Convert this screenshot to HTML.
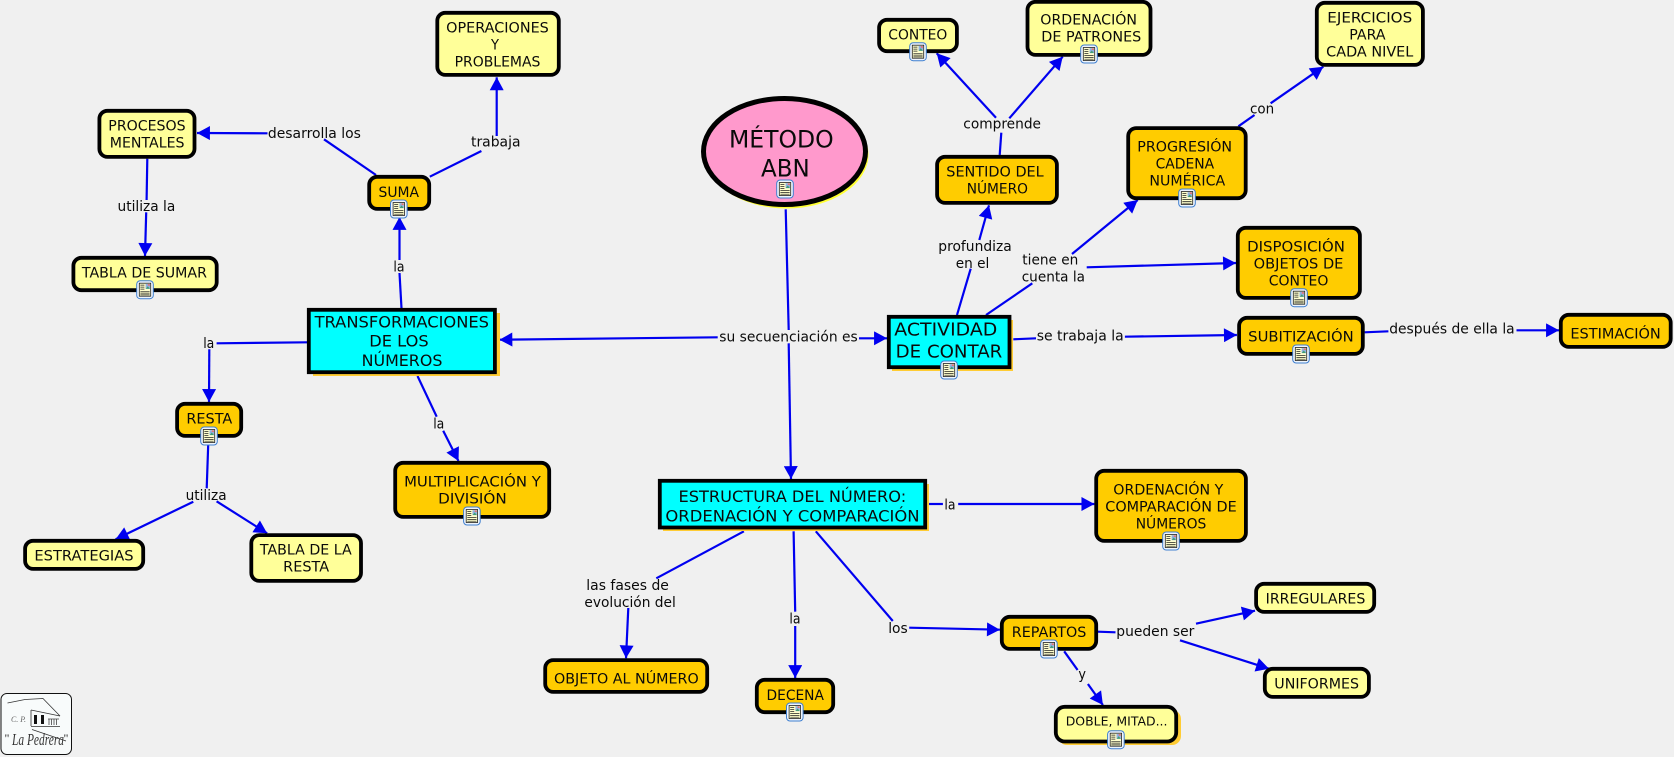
<!DOCTYPE html>
<html lang="es">
<head>
<meta charset="utf-8">
<title>MÉTODO ABN</title>
<style>
html,body{margin:0;padding:0;background:#f0f0f0;width:1674px;height:757px;overflow:hidden}
svg{display:block}
text{font-family:"DejaVu Sans","Liberation Sans",sans-serif;font-size:14px;fill:#0a0a0a}
.c path{fill:none;stroke:#0000f0;stroke-width:2.2}
.c path.a{marker-end:url(#ah)}
.n rect,.n ellipse{stroke:#000;stroke-width:3.8}
.y{fill:#ffff99}.o{fill:#ffcc00}.b{fill:#00ffff}
.s{fill:#ffcc33;stroke:none!important}
</style>
</head>
<body>
<svg width="1674" height="757" viewBox="0 0 1674 757" xmlns="http://www.w3.org/2000/svg">
<defs>
<marker id="ah" markerUnits="userSpaceOnUse" markerWidth="14" markerHeight="14" viewBox="0 0 12 13" refX="12" refY="6.5" orient="auto"><path d="M0 0L12 6.5L0 13z" fill="#0000f0"/></marker>
<g id="ic">
<rect x="-8.3" y="-9" width="16.6" height="18" rx="3.5" fill="#eef4fc" stroke="#3f7fd0" stroke-width="1"/>
<rect x="-5.7" y="-6.5" width="11.4" height="13" fill="#ffffcc" stroke="#222" stroke-width="0.8"/>
<rect x="0.6" y="-5.8" width="4.4" height="5" fill="#8fb0e0"/>
<path d="M0.8 -1L2.8 -3.5L4.8 -1z" fill="#3f9f6f"/>
<rect x="2.8" y="-5.6" width="2" height="1.6" fill="#e87070"/>
<path d="M-4.6 -4.6h4M-4.6 -2.6h4M-4.6 -0.6h4M-4.6 1.6h9.2M-4.6 3.4h9.2M-4.6 5.2h9.2" stroke="#222" stroke-width="0.7" fill="none"/>
</g>
</defs>
<rect width="1674" height="757" fill="#f0f0f0"/>

<g class="c">
<path class="a" d="M267.5 133.3L197 133"/>
<path d="M376 175L324 139.3"/>
<path d="M429.8 176.7L481.4 151"/>
<path class="a" d="M496.7 136L496.7 77.3"/>
<path d="M147.3 158.7L146.6 200"/>
<path class="a" d="M146.2 212.3L145 256"/>
<path d="M401.5 308.3L399.5 273"/>
<path class="a" d="M399.5 260L399.5 217"/>
<path d="M307 342.3L216.6 343.3"/>
<path class="a" d="M209.3 349.3L209 402"/>
<path class="a" d="M717.7 337.3L499.4 339.7"/>
<path class="a" d="M859 338.3L887 338.3"/>
<path d="M785.7 209.3L788.7 330"/>
<path class="a" d="M788.7 343.3L791 479"/>
<path class="a" d="M996 117.7L936.7 53.3"/>
<path class="a" d="M1009.3 118.3L1062.7 56.7"/>
<path d="M999.7 155L1001.3 132.7"/>
<path d="M957 315L970.7 268.7"/>
<path class="a" d="M979.3 240L989 205.3"/>
<path d="M986 315L1032.3 283.3"/>
<path class="a" d="M1072 254L1137.7 200"/>
<path class="a" d="M1086.7 267.3L1236 263"/>
<path d="M1013.3 339.3L1036 338.3"/>
<path class="a" d="M1124.9 336.7L1236.9 335"/>
<path d="M1364.6 332.3L1388.4 331.3"/>
<path class="a" d="M1516.5 330.3L1559 330.3"/>
<path d="M1238.4 126.3L1254.5 115"/>
<path class="a" d="M1270.6 103.3L1323.3 66.7"/>
<path d="M208.2 445L206.7 488.3"/>
<path class="a" d="M193.3 501.7L115.6 539.3"/>
<path class="a" d="M216.6 501.3L267.1 533.3"/>
<path d="M417.5 376L436.7 416.7"/>
<path class="a" d="M443.2 430.7L458.5 461"/>
<path d="M929 504L942.9 504"/>
<path class="a" d="M958.2 504L1094.4 504"/>
<path d="M743.9 531.3L656.3 578.3"/>
<path class="a" d="M628.3 608L626 658.3"/>
<path d="M793.6 531.3L795.2 611.7"/>
<path class="a" d="M795.2 626L795.2 678"/>
<path d="M815.8 531.3L892.8 621"/>
<path class="a" d="M909.2 627.7L999.9 629.7"/>
<path d="M1097.9 631.7L1115.5 632.3"/>
<path class="a" d="M1196 623.7L1255 610.7"/>
<path class="a" d="M1180 640.3L1269 668.7"/>
<path d="M1064.2 651.3L1077.6 670"/>
<path class="a" d="M1087.9 684L1102.9 705"/>
</g>

<g class="n">
<ellipse cx="786.5" cy="154.5" rx="82" ry="54" fill="#ffff33" style="stroke:none"/>
<ellipse cx="784.5" cy="151.5" rx="81" ry="53" fill="#ff99cc" style="stroke-width:5"/>

<rect class="s" x="313" y="313" width="187" height="63"/>
<rect x="308.8" y="309.8" width="186.1" height="62.4" class="b"/>
<rect class="s" x="892" y="320" width="121" height="51"/>
<rect x="888.8" y="316.8" width="120.7" height="50.4" class="b"/>
<rect class="s" x="663" y="484" width="266" height="47"/>
<rect x="659.8" y="480.8" width="265.4" height="46.7" class="b"/>

<rect class="s" x="1058" y="710" width="123" height="35" rx="9"/>

<rect x="437.3" y="12.8" width="121.5" height="62.1" rx="8" class="y"/>
<rect x="99.4" y="110.8" width="95.1" height="46.1" rx="8" class="y"/>
<rect x="73.4" y="257.8" width="143.3" height="32.4" rx="8" class="y"/>
<rect x="879.1" y="19.8" width="77.8" height="31.4" rx="8" class="y"/>
<rect x="1027.5" y="1.8" width="123" height="53.1" rx="8" class="y"/>
<rect x="1316.8" y="2.8" width="106.1" height="62.1" rx="8" class="y"/>
<rect x="25.1" y="540.8" width="118.1" height="28.1" rx="8" class="y"/>
<rect x="251.3" y="535.1" width="109.7" height="45.8" rx="8" class="y"/>
<rect x="1055.8" y="706.8" width="120.4" height="34.7" rx="9" class="y"/>
<rect x="1256.1" y="583.8" width="118.1" height="28.1" rx="8" class="y"/>
<rect x="1264.8" y="668.8" width="104.1" height="28.1" rx="8" class="y"/>

<rect x="369.2" y="176.8" width="60" height="32.1" rx="8" class="o"/>
<rect x="937.1" y="156.8" width="119.8" height="46.1" rx="8" class="o"/>
<rect x="1128.2" y="128.1" width="117.5" height="70.1" rx="8" class="o"/>
<rect x="1237.8" y="227.8" width="122.1" height="70.1" rx="8" class="o"/>
<rect x="1239.1" y="317.8" width="123.7" height="36.1" rx="8" class="o"/>
<rect x="1560.8" y="314.8" width="109.9" height="32.1" rx="8" class="o"/>
<rect x="177.1" y="403.8" width="64.1" height="32.1" rx="8" class="o"/>
<rect x="395.2" y="462.8" width="154" height="54.1" rx="8" class="o"/>
<rect x="1096.2" y="470.8" width="149.7" height="70.1" rx="8" class="o"/>
<rect x="545.2" y="660.1" width="162" height="31.8" rx="8" class="o"/>
<rect x="756.8" y="679.8" width="76.4" height="32.4" rx="8" class="o"/>
<rect x="1001.8" y="616.8" width="94.4" height="32.1" rx="8" class="o"/>
</g>

<g>
<text x="446.2" y="32.7" textLength="102.6" lengthAdjust="spacingAndGlyphs">OPERACIONES</text>
<text x="491" y="49.7" textLength="8" lengthAdjust="spacingAndGlyphs">Y</text>
<text x="454.6" y="66.7" textLength="85.8" lengthAdjust="spacingAndGlyphs">PROBLEMAS</text>
<text x="108.3" y="130.7" textLength="77.3" lengthAdjust="spacingAndGlyphs">PROCESOS</text>
<text x="109.8" y="147.7" textLength="74.7" lengthAdjust="spacingAndGlyphs">MENTALES</text>
<text x="378.5" y="197" textLength="40.5" lengthAdjust="spacingAndGlyphs">SUMA</text>
<text x="81.9" y="277.7" textLength="125.1" lengthAdjust="spacingAndGlyphs">TABLA DE SUMAR</text>
<text x="314.6" y="327.3" textLength="174.4" lengthAdjust="spacingAndGlyphs" style="font-size:16px">TRANSFORMACIONES</text>
<text x="369.3" y="346.7" textLength="59.3" lengthAdjust="spacingAndGlyphs" style="font-size:16px">DE LOS</text>
<text x="361.6" y="366" textLength="80.8" lengthAdjust="spacingAndGlyphs" style="font-size:16px">NÚMEROS</text>
<text x="267.9" y="138" textLength="93" lengthAdjust="spacingAndGlyphs">desarrolla los</text>
<text x="471" y="146.7" textLength="49.5" lengthAdjust="spacingAndGlyphs">trabaja</text>
<text x="117.5" y="211" textLength="57.8" lengthAdjust="spacingAndGlyphs">utiliza la</text>
<text x="393.4" y="271.7" textLength="11.1" lengthAdjust="spacingAndGlyphs">la</text>
<text x="203.2" y="348" textLength="11.1" lengthAdjust="spacingAndGlyphs">la</text>

<text x="888.3" y="39.7" textLength="59" lengthAdjust="spacingAndGlyphs">CONTEO</text>
<text x="1040.3" y="24.7" textLength="96.7" lengthAdjust="spacingAndGlyphs">ORDENACIÓN</text>
<text x="1041.3" y="41.7" textLength="100" lengthAdjust="spacingAndGlyphs">DE PATRONES</text>
<text x="729" y="147.7" textLength="104.7" lengthAdjust="spacingAndGlyphs" style="font-size:24px">MÉTODO</text>
<text x="761" y="176.7" textLength="48.7" lengthAdjust="spacingAndGlyphs" style="font-size:24px">ABN</text>
<text x="946.3" y="176.7" textLength="97.4" lengthAdjust="spacingAndGlyphs">SENTIDO DEL</text>
<text x="966.7" y="193.7" textLength="61.3" lengthAdjust="spacingAndGlyphs">NÚMERO</text>
<text x="963.3" y="128.7" textLength="77.7" lengthAdjust="spacingAndGlyphs">comprende</text>
<text x="938.3" y="251" textLength="73.4" lengthAdjust="spacingAndGlyphs">profundiza</text>
<text x="955.7" y="268" textLength="33.6" lengthAdjust="spacingAndGlyphs">en el</text>
<text x="1022.3" y="264.3" textLength="56" lengthAdjust="spacingAndGlyphs">tiene en</text>
<text x="1021.7" y="281.3" textLength="63.3" lengthAdjust="spacingAndGlyphs">cuenta la</text>
<text x="719.3" y="341.7" textLength="138.4" lengthAdjust="spacingAndGlyphs">su secuenciación es</text>
<text x="894.3" y="335.7" textLength="103" lengthAdjust="spacingAndGlyphs" style="font-size:18px">ACTIVIDAD</text>
<text x="895.7" y="357.3" textLength="106.6" lengthAdjust="spacingAndGlyphs" style="font-size:18px">DE CONTAR</text>
<text x="1036.7" y="340.7" textLength="87" lengthAdjust="spacingAndGlyphs">se trabaja la</text>

<text x="1327.3" y="22.7" textLength="84.9" lengthAdjust="spacingAndGlyphs">EJERCICIOS</text>
<text x="1349.3" y="39.7" textLength="36.2" lengthAdjust="spacingAndGlyphs">PARA</text>
<text x="1326.2" y="56.7" textLength="87.1" lengthAdjust="spacingAndGlyphs">CADA NIVEL</text>
<text x="1250" y="113.3" textLength="24.2" lengthAdjust="spacingAndGlyphs">con</text>
<text x="1137.3" y="151.7" textLength="94.8" lengthAdjust="spacingAndGlyphs">PROGRESIÓN</text>
<text x="1155.6" y="168.7" textLength="58.6" lengthAdjust="spacingAndGlyphs">CADENA</text>
<text x="1149.4" y="185.7" textLength="75.8" lengthAdjust="spacingAndGlyphs">NUMÉRICA</text>
<text x="1247.1" y="251.7" textLength="97.8" lengthAdjust="spacingAndGlyphs">DISPOSICIÓN</text>
<text x="1253.7" y="268.7" textLength="89.7" lengthAdjust="spacingAndGlyphs">OBJETOS DE</text>
<text x="1268.7" y="285.7" textLength="59.7" lengthAdjust="spacingAndGlyphs">CONTEO</text>
<text x="1248.2" y="341.7" textLength="105.5" lengthAdjust="spacingAndGlyphs">SUBITIZACIÓN</text>
<text x="1570.4" y="338.7" textLength="90.4" lengthAdjust="spacingAndGlyphs">ESTIMACIÓN</text>
<text x="1389.2" y="333.7" textLength="125.5" lengthAdjust="spacingAndGlyphs">después de ella la</text>

<text x="186.4" y="423.7" textLength="45.9" lengthAdjust="spacingAndGlyphs">RESTA</text>
<text x="433.2" y="428.7" textLength="11.1" lengthAdjust="spacingAndGlyphs">la</text>
<text x="404.1" y="486.7" textLength="136.7" lengthAdjust="spacingAndGlyphs">MULTIPLICACIÓN Y</text>
<text x="438.2" y="503.7" textLength="68.5" lengthAdjust="spacingAndGlyphs">DIVISIÓN</text>
<text x="185.6" y="500" textLength="41" lengthAdjust="spacingAndGlyphs">utiliza</text>
<text x="34.4" y="560.7" textLength="99.2" lengthAdjust="spacingAndGlyphs">ESTRATEGIAS</text>
<text x="259.9" y="554.3" textLength="91.8" lengthAdjust="spacingAndGlyphs">TABLA DE LA</text>
<text x="283.2" y="571.3" textLength="45.9" lengthAdjust="spacingAndGlyphs">RESTA</text>

<text x="678.5" y="502" textLength="227.7" lengthAdjust="spacingAndGlyphs" style="font-size:16px">ESTRUCTURA DEL NÚMERO:</text>
<text x="665.4" y="521.3" textLength="254.2" lengthAdjust="spacingAndGlyphs" style="font-size:16px">ORDENACIÓN Y COMPARACIÓN</text>
<text x="944.4" y="509.7" textLength="11.1" lengthAdjust="spacingAndGlyphs">la</text>
<text x="1113.3" y="494.7" textLength="110" lengthAdjust="spacingAndGlyphs">ORDENACIÓN Y</text>
<text x="1105.3" y="511.7" textLength="131.4" lengthAdjust="spacingAndGlyphs">COMPARACIÓN DE</text>
<text x="1135.7" y="528.7" textLength="70.6" lengthAdjust="spacingAndGlyphs">NÚMEROS</text>
<text x="586.3" y="590" textLength="82.6" lengthAdjust="spacingAndGlyphs">las fases de</text>
<text x="584.4" y="607" textLength="91.4" lengthAdjust="spacingAndGlyphs">evolución del</text>
<text x="554" y="683.7" textLength="144.7" lengthAdjust="spacingAndGlyphs">OBJETO AL NÚMERO</text>
<text x="789.4" y="623.7" textLength="11.1" lengthAdjust="spacingAndGlyphs">la</text>
<text x="888.2" y="633" textLength="19.5" lengthAdjust="spacingAndGlyphs">los</text>
<text x="1011.8" y="637" textLength="74.6" lengthAdjust="spacingAndGlyphs">REPARTOS</text>
<text x="1116.3" y="636" textLength="78" lengthAdjust="spacingAndGlyphs">pueden ser</text>
<text x="1078.4" y="679" textLength="7.6" lengthAdjust="spacingAndGlyphs">y</text>
<text x="766.5" y="700" textLength="57.4" lengthAdjust="spacingAndGlyphs">DECENA</text>
<text x="1065.7" y="725.3" textLength="101.8" lengthAdjust="spacingAndGlyphs" style="font-size:12.5px">DOBLE, MITAD...</text>
<text x="1265.7" y="603.3" textLength="99.6" lengthAdjust="spacingAndGlyphs">IRREGULARES</text>
<text x="1274.3" y="688.3" textLength="84.7" lengthAdjust="spacingAndGlyphs">UNIFORMES</text>
</g>

<use href="#ic" x="398.8" y="209"/>
<use href="#ic" x="145" y="289.7"/>
<use href="#ic" x="785" y="189"/>
<use href="#ic" x="918" y="51.7"/>
<use href="#ic" x="1089" y="54"/>
<use href="#ic" x="949" y="370"/>
<use href="#ic" x="1187" y="198"/>
<use href="#ic" x="1299" y="297.7"/>
<use href="#ic" x="1301" y="354"/>
<use href="#ic" x="209" y="436"/>
<use href="#ic" x="471.9" y="516"/>
<use href="#ic" x="1171" y="541"/>
<use href="#ic" x="1048.9" y="649"/>
<use href="#ic" x="794.8" y="712"/>
<use href="#ic" x="1115.9" y="739.7"/>

<g>
<rect x="1" y="693.5" width="70.5" height="61" rx="6" fill="#f8fbfb" stroke="#111" stroke-width="1"/>
<path d="M7.5 703L25 699.5L43 698.5L60 716" fill="none" stroke="#333" stroke-width="0.8"/>
<path d="M31 710V726M31 710L60 716M31 726.5H60M32 729.5L66 741" fill="none" stroke="#333" stroke-width="0.8"/>
<path d="M34 715h3v9h-3zM41 715h3v9h-3z" fill="#111"/>
<path d="M48 719h11M49 719v6M51.5 719v6M54 719v6M56.5 719v6" fill="none" stroke="#444" stroke-width="0.8"/>
<text x="11" y="722" textLength="15" lengthAdjust="spacingAndGlyphs" style="font-family:'Liberation Serif',serif;font-size:8px;font-style:italic;fill:#666">C. P.</text>
<text x="12" y="745" textLength="52" lengthAdjust="spacingAndGlyphs" style="font-family:'Liberation Serif',serif;font-size:17px;font-style:italic;fill:#333">La Pedrera</text>
<text x="4.5" y="742" style="font-family:'Liberation Serif',serif;font-size:12px;fill:#222">"</text>
<text x="63.5" y="742" style="font-family:'Liberation Serif',serif;font-size:12px;fill:#222">"</text>
</g>
</svg>
</body>
</html>
